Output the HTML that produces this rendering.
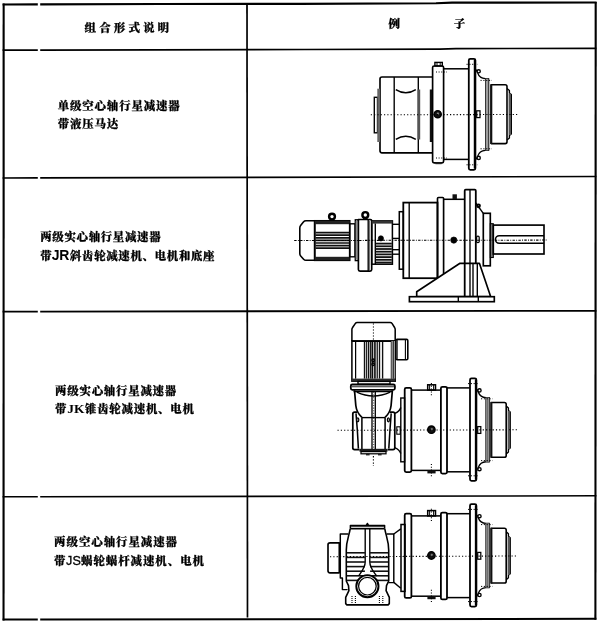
<!DOCTYPE html>
<html lang="zh-CN">
<head>
<meta charset="utf-8">
<title>组合形式说明</title>
<style>
html,body{margin:0;padding:0;background:#fff;}
body{width:600px;height:624px;position:relative;overflow:hidden;font-family:"Liberation Serif","Noto Serif CJK SC",serif;color:#000;}
svg{position:absolute;left:0;top:0;}
.t{position:absolute;white-space:nowrap;font-weight:900;font-size:11.4px;line-height:18.6px;letter-spacing:0.72px;-webkit-text-stroke:0.25px #000;filter:blur(0.3px);}
.h{position:absolute;white-space:nowrap;font-weight:900;font-size:11.5px;line-height:14px;-webkit-text-stroke:0.25px #000;filter:blur(0.3px);}
.lat{font-family:"Liberation Sans",sans-serif;font-weight:bold;font-size:14px;line-height:1;-webkit-text-stroke:0;letter-spacing:-0.2px;margin-left:-0.6px;margin-right:0.7px;position:relative;top:0.3px;}
.ser{font-family:"Liberation Serif",serif;font-weight:bold;font-size:13.5px;line-height:1;-webkit-text-stroke:0;letter-spacing:0;margin-left:-0.1px;margin-right:0.5px;}
.js{font-family:"Liberation Sans",sans-serif;font-weight:normal;font-size:12.6px;line-height:1;-webkit-text-stroke:0.3px #000;letter-spacing:0;margin-left:-0.4px;margin-right:0.2px;}
</style>
</head>
<body>
<svg width="600" height="624" viewBox="0 0 600 624" stroke-linecap="butt">
<path d="M2.6,4.50 L37.8,4.40 M40.2,4.39 L160.0,4.05 L300.0,3.85 L436.0,3.30 L452.0,2.65 L596.6,2.50" stroke="#000" stroke-width="2.1" fill="none"/>
<path d="M2.6,50.20 L37.8,50.11 M40.2,50.10 L155.0,49.80 L305.0,49.50 L440.0,49.05 L456.0,48.65 L596.4,48.30" stroke="#000" stroke-width="1.7" fill="none"/>
<line x1="2.60" y1="178.00" x2="37.80" y2="177.91" stroke="#000" stroke-width="1.60" />
<line x1="40.20" y1="177.91" x2="596.40" y2="176.50" stroke="#000" stroke-width="1.60" />
<line x1="2.60" y1="311.60" x2="37.80" y2="311.55" stroke="#000" stroke-width="1.80" />
<line x1="40.20" y1="311.55" x2="596.40" y2="310.80" stroke="#000" stroke-width="1.80" />
<line x1="2.60" y1="496.80" x2="37.80" y2="496.74" stroke="#000" stroke-width="1.60" />
<line x1="40.20" y1="496.74" x2="596.40" y2="495.80" stroke="#000" stroke-width="1.60" />
<line x1="2.60" y1="619.60" x2="37.80" y2="619.55" stroke="#000" stroke-width="2.00" />
<line x1="40.20" y1="619.55" x2="596.40" y2="618.80" stroke="#000" stroke-width="2.00" />
<line x1="3.65" y1="3.40" x2="3.55" y2="620.50" stroke="#000" stroke-width="2.10" />
<line x1="595.70" y1="1.90" x2="595.40" y2="619.70" stroke="#000" stroke-width="2.10" />
<line x1="247.00" y1="3.50" x2="247.50" y2="617.60" stroke="#000" stroke-width="1.70" />
<path d="M432,77 H382 Q380,77 380,79 V150.8 Q380,152.8 382,152.8 H432" stroke="#000" stroke-width="1.66" fill="none" stroke-linejoin="round" />
<line x1="394.20" y1="77.00" x2="394.20" y2="152.80" stroke="#000" stroke-width="1.38" />
<line x1="418.30" y1="77.00" x2="418.30" y2="152.80" stroke="#000" stroke-width="1.38" />
<path d="M395.8,89.6 Q405.8,96 415.8,89.6" stroke="#000" stroke-width="1.52" fill="none" stroke-linejoin="round" />
<path d="M395.8,139.4 Q405.8,133 415.8,139.4" stroke="#000" stroke-width="1.52" fill="none" stroke-linejoin="round" />
<rect x="374.30" y="97.30" width="3.20" height="35.50" rx="0" stroke="#000" stroke-width="1.38" fill="none"/>
<rect x="377.30" y="88.70" width="2.70" height="53.30" fill="#666"/>
<rect x="417.60" y="89.50" width="2.60" height="50.00" fill="#555"/>
<rect x="429.80" y="89.50" width="2.50" height="52.50" fill="#111"/>
<rect x="432.60" y="66.00" width="11.00" height="96.80" rx="1.5" stroke="#000" stroke-width="1.66" fill="none"/>
<rect x="434.90" y="62.40" width="7.40" height="3.60" rx="0" stroke="#000" stroke-width="1.38" fill="none"/>
<line x1="437.00" y1="62.40" x2="437.00" y2="66.00" stroke="#000" stroke-width="0.97" />
<line x1="440.20" y1="62.40" x2="440.20" y2="66.00" stroke="#000" stroke-width="0.97" />
<rect x="435.40" y="162.40" width="6.20" height="1.80" fill="#222"/>
<line x1="436.00" y1="72.00" x2="447.00" y2="72.00" stroke="#000" stroke-width="1.10" stroke-dasharray="1 1.6"/>
<line x1="436.00" y1="158.00" x2="447.00" y2="158.00" stroke="#000" stroke-width="1.10" stroke-dasharray="1 1.6"/>
<circle cx="437.70" cy="114.20" r="3.6" stroke="#000" stroke-width="1.38" fill="#111"/>
<circle cx="437.90" cy="113.60" r="1.1" stroke="#888" stroke-width="0.14" fill="#888"/>
<line x1="443.60" y1="68.80" x2="468.70" y2="68.80" stroke="#000" stroke-width="1.52" />
<line x1="443.60" y1="159.40" x2="468.70" y2="159.40" stroke="#000" stroke-width="1.52" />
<rect x="468.80" y="58.80" width="6.60" height="111.00" rx="1.5" stroke="#000" stroke-width="1.79" fill="none"/>
<line x1="474.60" y1="60.00" x2="474.60" y2="168.60" stroke="#000" stroke-width="1.66" />
<path d="M476.2,69.6 L477.6,72.6 Q479.4,78.4 485.4,78.6 H488.6 V150.4 H485.4 Q479.4,150.6 477.6,156.4 L476.2,159.4" stroke="#000" stroke-width="1.38" fill="none" stroke-linejoin="round" />
<rect x="485.40" y="78.60" width="3.20" height="71.80" fill="#aaa"/>
<line x1="485.60" y1="78.60" x2="485.60" y2="150.40" stroke="#222" stroke-width="0.97" />
<line x1="488.40" y1="78.60" x2="488.40" y2="150.40" stroke="#333" stroke-width="0.83" />
<circle cx="478.70" cy="71.30" r="1.6" stroke="#000" stroke-width="1.38" fill="#fff"/>
<circle cx="478.70" cy="157.90" r="1.6" stroke="#000" stroke-width="1.38" fill="#fff"/>
<line x1="466.50" y1="64.30" x2="478.00" y2="64.30" stroke="#000" stroke-width="0.97" stroke-dasharray="1.2 1.6"/>
<line x1="466.50" y1="164.80" x2="478.00" y2="164.80" stroke="#000" stroke-width="0.97" stroke-dasharray="1.2 1.6"/>
<line x1="480.50" y1="80.40" x2="492.00" y2="80.40" stroke="#000" stroke-width="0.97" stroke-dasharray="1.2 1.6"/>
<line x1="480.50" y1="148.80" x2="492.00" y2="148.80" stroke="#000" stroke-width="0.97" stroke-dasharray="1.2 1.6"/>
<rect x="476.70" y="110.80" width="3.30" height="6.80" rx="0" stroke="#000" stroke-width="1.24" fill="#fff"/>
<path d="M491.2,84.8 H505.2 Q507,84.8 507,86.6 V141.8 Q507,143.6 505.2,143.6 H491.2 Z" stroke="#000" stroke-width="1.59" fill="none" stroke-linejoin="round" />
<rect x="490.20" y="84.40" width="2.10" height="59.60" fill="#111"/>
<path d="M507,88.5 L509.4,90.5 V93 L511.3,94.5 V134 L509.4,135.5 V138 L507,140" stroke="#000" stroke-width="1.38" fill="none" stroke-linejoin="round" />
<rect x="508.60" y="93.50" width="2.40" height="41.50" fill="#555"/>
<line x1="370.80" y1="114.80" x2="519.00" y2="114.50" stroke="#000" stroke-width="1.10" stroke-dasharray="1.2 2.1"/>
<path d="M314.7,220.8 H306 Q304.4,220.8 303.4,222 L300.8,225.2 Q299.8,226.4 299.8,228 V253.4 Q299.8,255 300.9,256.2 L303.6,259.2 Q304.6,260.3 306,260.3 H314.7 Z" stroke="#000" stroke-width="1.59" fill="none" stroke-linejoin="round" />
<rect x="314.70" y="220.80" width="35.00" height="39.50" rx="0" stroke="#000" stroke-width="1.66" fill="none"/>
<rect x="314.70" y="220.80" width="35.00" height="3.40" fill="#222"/>
<rect x="314.70" y="256.80" width="35.00" height="3.50" fill="#222"/>
<line x1="315.50" y1="232.60" x2="349.50" y2="232.60" stroke="#111" stroke-width="1.72" />
<line x1="315.50" y1="235.20" x2="349.50" y2="235.20" stroke="#111" stroke-width="1.72" />
<line x1="315.50" y1="237.80" x2="349.50" y2="237.80" stroke="#111" stroke-width="1.72" />
<line x1="315.50" y1="240.40" x2="349.50" y2="240.40" stroke="#111" stroke-width="1.72" />
<line x1="315.50" y1="243.00" x2="349.50" y2="243.00" stroke="#111" stroke-width="1.72" />
<line x1="315.50" y1="245.60" x2="349.50" y2="245.60" stroke="#111" stroke-width="1.72" />
<line x1="315.50" y1="248.20" x2="349.50" y2="248.20" stroke="#111" stroke-width="1.72" />
<rect x="349.70" y="223.80" width="5.30" height="33.00" rx="0" stroke="#000" stroke-width="1.38" fill="none"/>
<rect x="355.30" y="219.80" width="3.10" height="40.80" rx="0" stroke="#000" stroke-width="1.38" fill="#fff"/>
<rect x="355.30" y="221.00" width="1.30" height="38.60" fill="#444"/>
<path d="M358.4,219.5 H370.4 Q371.7,219.5 371.7,220.8 V269.6 Q371.7,271.2 370.1,271.2 H360 Q358.4,271.2 358.4,269.6 Z" stroke="#000" stroke-width="1.66" fill="#fff" stroke-linejoin="round" />
<line x1="368.20" y1="219.50" x2="368.20" y2="271.20" stroke="#000" stroke-width="1.38" />
<line x1="369.40" y1="220.50" x2="369.40" y2="270.40" stroke="#444" stroke-width="0.83" />
<circle cx="332.00" cy="216.60" r="2.9" stroke="#000" stroke-width="2.42" fill="none"/>
<line x1="330.50" y1="219.60" x2="330.50" y2="220.80" stroke="#000" stroke-width="1.38" />
<line x1="333.50" y1="219.60" x2="333.50" y2="220.80" stroke="#000" stroke-width="1.38" />
<circle cx="365.30" cy="215.00" r="2.9" stroke="#000" stroke-width="2.42" fill="none"/>
<line x1="363.80" y1="218.00" x2="363.80" y2="219.40" stroke="#000" stroke-width="1.38" />
<line x1="366.80" y1="218.00" x2="366.80" y2="219.40" stroke="#000" stroke-width="1.38" />
<rect x="371.70" y="220.90" width="20.70" height="43.30" rx="0" stroke="#000" stroke-width="1.52" fill="none"/>
<rect x="371.70" y="220.90" width="20.70" height="2.70" fill="#333"/>
<line x1="375.30" y1="223.60" x2="375.30" y2="264.20" stroke="#000" stroke-width="1.38" />
<line x1="375.80" y1="243.60" x2="391.80" y2="243.60" stroke="#111" stroke-width="1.79" />
<line x1="375.80" y1="246.30" x2="391.80" y2="246.30" stroke="#111" stroke-width="1.79" />
<line x1="375.80" y1="249.00" x2="391.80" y2="249.00" stroke="#111" stroke-width="1.79" />
<line x1="375.80" y1="251.70" x2="391.80" y2="251.70" stroke="#111" stroke-width="1.79" />
<line x1="375.80" y1="254.40" x2="391.80" y2="254.40" stroke="#111" stroke-width="1.79" />
<line x1="375.80" y1="257.10" x2="391.80" y2="257.10" stroke="#111" stroke-width="1.79" />
<line x1="375.80" y1="259.80" x2="391.80" y2="259.80" stroke="#111" stroke-width="1.79" />
<line x1="375.80" y1="262.50" x2="391.80" y2="262.50" stroke="#111" stroke-width="1.79" />
<circle cx="380.90" cy="238.40" r="2.6" stroke="#000" stroke-width="0.69" fill="#000"/>
<line x1="392.40" y1="224.30" x2="399.40" y2="224.30" stroke="#000" stroke-width="1.38" />
<line x1="392.40" y1="238.40" x2="399.40" y2="238.40" stroke="#000" stroke-width="1.38" />
<line x1="392.40" y1="249.70" x2="399.40" y2="249.70" stroke="#000" stroke-width="1.38" />
<line x1="392.40" y1="254.20" x2="399.40" y2="254.20" stroke="#000" stroke-width="1.38" />
<rect x="399.30" y="211.70" width="4.00" height="57.50" rx="0" stroke="#000" stroke-width="1.52" fill="none"/>
<rect x="403.30" y="202.60" width="34.20" height="75.60" rx="0" stroke="#000" stroke-width="1.79" fill="none"/>
<line x1="409.20" y1="202.60" x2="409.20" y2="278.20" stroke="#000" stroke-width="1.38" />
<path d="M460,263.3 H479.4 L490.7,296.7 H416.7 V291.7 Z" stroke="#000" stroke-width="1.66" fill="#fff" stroke-linejoin="round" />
<rect x="409.40" y="296.70" width="84.90" height="5.00" rx="0" stroke="#000" stroke-width="1.66" fill="#fff"/>
<line x1="458.30" y1="296.70" x2="458.30" y2="301.70" stroke="#000" stroke-width="1.38" />
<line x1="478.30" y1="296.70" x2="478.30" y2="301.70" stroke="#000" stroke-width="1.38" />
<path d="M437.5,277.9 V198.5 Q437.5,197.5 438.5,197.5 H442.6 Q443.6,197.5 443.6,198.5 V274" stroke="#000" stroke-width="1.66" fill="none" stroke-linejoin="round" />
<line x1="443.60" y1="199.30" x2="464.70" y2="199.30" stroke="#000" stroke-width="1.52" />
<rect x="452.50" y="194.30" width="4.40" height="4.70" fill="#111"/>
<circle cx="453.80" cy="240.10" r="3.1" stroke="#000" stroke-width="0.69" fill="#000"/>
<path d="M464.7,296.7 V190.7 Q464.7,189.7 465.7,189.7 H474.8 Q475.8,189.7 475.8,190.7 V263.3" stroke="#000" stroke-width="1.79" fill="none" stroke-linejoin="round" />
<line x1="470.00" y1="189.70" x2="470.00" y2="296.70" stroke="#000" stroke-width="1.38" />
<line x1="473.00" y1="263.30" x2="473.00" y2="296.70" stroke="#000" stroke-width="1.38" />
<line x1="477.30" y1="263.30" x2="477.30" y2="296.70" stroke="#000" stroke-width="1.38" />
<circle cx="478.50" cy="205.80" r="1.5" stroke="#000" stroke-width="1.79" fill="none"/>
<path d="M475.8,203 L483.3,213.3" stroke="#000" stroke-width="1.38" fill="none" stroke-linejoin="round" />
<path d="M475.8,213.3 H483.3" stroke="#000" stroke-width="0.01" fill="none" stroke-linejoin="round" />
<rect x="483.30" y="213.30" width="7.00" height="52.50" rx="0" stroke="#000" stroke-width="1.66" fill="none"/>
<rect x="490.30" y="223.70" width="3.00" height="33.80" fill="#777"/>
<rect x="490.30" y="223.70" width="3.00" height="33.80" rx="0" stroke="#000" stroke-width="1.10" fill="none"/>
<rect x="493.30" y="225.10" width="50.70" height="28.90" rx="0" stroke="#000" stroke-width="1.66" fill="none"/>
<path d="M544,235.8 H499.2 A3.7,3.7 0 0 0 499.2,243.3 H544" stroke="#000" stroke-width="1.52" fill="none" stroke-linejoin="round" />
<rect x="476.60" y="236.20" width="2.60" height="6.40" rx="1.2" stroke="#000" stroke-width="1.24" fill="none"/>
<line x1="294.20" y1="240.50" x2="547.00" y2="240.10" stroke="#000" stroke-width="1.03" stroke-dasharray="2.4 1.3 0.9 1.3"/>
<path d="M351.9,341 V329.6 Q351.9,328.4 352.6,327.5 L355.4,323.3 Q356,322.4 357.2,322.4 H390.2 Q391.4,322.4 392,323.3 L394.6,327.5 Q395.2,328.4 395.2,329.6 V341" stroke="#000" stroke-width="1.52" fill="none" stroke-linejoin="round" />
<rect x="351.90" y="341.00" width="43.30" height="40.20" rx="0" stroke="#000" stroke-width="1.52" fill="none"/>
<line x1="351.90" y1="341.20" x2="395.20" y2="341.20" stroke="#000" stroke-width="1.79" />
<line x1="355.60" y1="341.00" x2="355.60" y2="378.70" stroke="#000" stroke-width="1.24" />
<line x1="391.40" y1="341.00" x2="391.40" y2="378.70" stroke="#000" stroke-width="1.24" />
<rect x="391.40" y="341.00" width="3.80" height="37.70" fill="#999"/>
<line x1="393.40" y1="341.00" x2="393.40" y2="378.70" stroke="#333" stroke-width="1.10" />
<rect x="351.90" y="378.60" width="43.30" height="2.80" fill="#2a2a2a"/>
<line x1="364.50" y1="342.00" x2="364.50" y2="378.60" stroke="#111" stroke-width="1.38" />
<line x1="366.50" y1="342.00" x2="366.50" y2="378.60" stroke="#222" stroke-width="1.24" />
<line x1="368.50" y1="342.00" x2="368.50" y2="378.60" stroke="#111" stroke-width="1.38" />
<line x1="370.40" y1="342.00" x2="370.40" y2="378.60" stroke="#222" stroke-width="1.24" />
<line x1="372.30" y1="342.00" x2="372.30" y2="378.60" stroke="#111" stroke-width="1.52" />
<line x1="374.90" y1="342.00" x2="374.90" y2="378.60" stroke="#111" stroke-width="1.52" />
<line x1="377.30" y1="342.00" x2="377.30" y2="378.60" stroke="#222" stroke-width="1.24" />
<line x1="379.50" y1="342.00" x2="379.50" y2="378.60" stroke="#111" stroke-width="1.38" />
<line x1="382.60" y1="342.00" x2="382.60" y2="378.60" stroke="#111" stroke-width="1.38" />
<rect x="370.40" y="342.00" width="6.20" height="36.60" fill="rgba(0,0,0,0.22)"/>
<rect x="395.90" y="339.40" width="11.90" height="20.40" rx="1.2" stroke="#000" stroke-width="1.59" fill="none"/>
<line x1="405.40" y1="339.40" x2="405.40" y2="359.80" stroke="#000" stroke-width="1.10" />
<line x1="397.20" y1="339.80" x2="397.20" y2="359.40" stroke="#000" stroke-width="0.97" />
<circle cx="373.20" cy="360.20" r="1.2" stroke="#000" stroke-width="1.52" fill="#ccc"/>
<circle cx="373.20" cy="364.30" r="1.2" stroke="#000" stroke-width="1.52" fill="#ccc"/>
<rect x="358.00" y="381.40" width="32.00" height="2.80" rx="0" stroke="#000" stroke-width="1.38" fill="none"/>
<rect x="350.80" y="384.50" width="44.10" height="5.30" rx="1.5" stroke="#000" stroke-width="1.79" fill="none"/>
<line x1="351.50" y1="386.70" x2="394.30" y2="386.70" stroke="#222" stroke-width="1.10" />
<line x1="353.60" y1="391.60" x2="392.90" y2="391.60" stroke="#000" stroke-width="1.38" />
<path d="M354.5,390.2 L355.8,405.5 Q356.6,412.6 361.9,417.4" stroke="#000" stroke-width="1.72" fill="none" stroke-linejoin="round" />
<path d="M392.4,390.2 L391.1,405.5 Q390.3,412.6 385.1,417.4" stroke="#000" stroke-width="1.72" fill="none" stroke-linejoin="round" />
<path d="M356.8,392.2 Q373.4,399.8 390.2,392.2" stroke="#000" stroke-width="1.45" fill="none" stroke-linejoin="round" />
<path d="M357,412.2 H354.6 Q352.8,412.2 352.8,414 V447.8 Q352.8,449.6 354.6,449.6 H359.4" stroke="#000" stroke-width="1.72" fill="none" stroke-linejoin="round" />
<path d="M389.8,412.2 H393 Q394.8,412.2 394.8,414 V447.8 Q394.8,449.6 393,449.6 H387.6" stroke="#000" stroke-width="1.72" fill="none" stroke-linejoin="round" />
<path d="M356.0,413.4 Q357.6,431 358.4,448.6" stroke="#000" stroke-width="1.52" fill="none" stroke-linejoin="round" />
<path d="M391.2,413.4 Q389.8,431 388.8,448.6" stroke="#000" stroke-width="1.52" fill="none" stroke-linejoin="round" />
<line x1="361.90" y1="417.40" x2="361.90" y2="449.00" stroke="#000" stroke-width="1.52" />
<line x1="385.10" y1="417.40" x2="385.10" y2="449.00" stroke="#000" stroke-width="1.52" />
<line x1="361.90" y1="417.60" x2="385.10" y2="417.60" stroke="#000" stroke-width="1.38" />
<ellipse cx="357.8" cy="419.8" rx="1.0" ry="2.0" stroke="#000" stroke-width="1.3" fill="#fff"/>
<ellipse cx="388.4" cy="419.8" rx="1.0" ry="2.0" stroke="#000" stroke-width="1.3" fill="#fff"/>
<line x1="372.00" y1="391.60" x2="372.00" y2="449.60" stroke="#000" stroke-width="1.31" />
<line x1="375.30" y1="391.60" x2="375.30" y2="449.60" stroke="#000" stroke-width="1.31" />
<line x1="373.60" y1="392.00" x2="373.60" y2="449.60" stroke="#666" stroke-width="1.38" stroke-dasharray="1.1 1.5"/>
<rect x="359.40" y="448.80" width="28.10" height="2.80" fill="#1a1a1a"/>
<rect x="361.00" y="451.60" width="25.00" height="2.20" rx="0" stroke="#000" stroke-width="1.24" fill="none"/>
<rect x="366.00" y="453.80" width="3.60" height="1.60" fill="#222"/>
<rect x="378.00" y="453.80" width="3.60" height="1.60" fill="#222"/>
<line x1="373.40" y1="323.40" x2="373.40" y2="341.00" stroke="#000" stroke-width="0.97" stroke-dasharray="1.2 1.8"/>
<line x1="373.40" y1="456.00" x2="373.40" y2="466.00" stroke="#000" stroke-width="1.10" stroke-dasharray="1.4 1.8"/>
<path d="M394.8,413.4 Q399.5,411.5 400.8,407.4" stroke="#000" stroke-width="1.52" fill="none" stroke-linejoin="round" />
<path d="M394.8,447.6 Q399.5,449.5 400.8,453.6" stroke="#000" stroke-width="1.52" fill="none" stroke-linejoin="round" />
<rect x="396.80" y="426.80" width="3.40" height="7.40" rx="0" stroke="#000" stroke-width="1.10" fill="none"/>
<rect x="400.80" y="398.00" width="3.80" height="63.80" rx="0" stroke="#000" stroke-width="1.38" fill="none"/>
<rect x="404.70" y="387.90" width="6.70" height="84.20" rx="1.5" stroke="#000" stroke-width="1.79" fill="none"/>
<line x1="411.40" y1="390.10" x2="440.80" y2="390.10" stroke="#000" stroke-width="1.52" />
<line x1="411.40" y1="470.40" x2="440.80" y2="470.40" stroke="#000" stroke-width="1.52" />
<rect x="427.70" y="384.80" width="7.80" height="5.30" rx="0" stroke="#000" stroke-width="1.52" fill="none"/>
<line x1="429.60" y1="384.80" x2="429.60" y2="390.10" stroke="#000" stroke-width="0.97" />
<line x1="433.60" y1="384.80" x2="433.60" y2="390.10" stroke="#000" stroke-width="0.97" />
<rect x="427.40" y="470.20" width="8.20" height="3.20" fill="#111"/>
<line x1="431.40" y1="383.00" x2="431.40" y2="396.00" stroke="#000" stroke-width="1.10" stroke-dasharray="1 1.8"/>
<line x1="431.40" y1="464.00" x2="431.40" y2="478.00" stroke="#000" stroke-width="1.10" stroke-dasharray="1 1.8"/>
<circle cx="431.40" cy="429.70" r="3.7" stroke="#000" stroke-width="1.38" fill="#111"/>
<circle cx="431.80" cy="429.10" r="1.1" stroke="#777" stroke-width="0.14" fill="#777"/>
<rect x="440.90" y="386.80" width="6.10" height="86.80" rx="1.5" stroke="#000" stroke-width="1.79" fill="none"/>
<line x1="447.00" y1="387.90" x2="469.80" y2="387.90" stroke="#000" stroke-width="1.52" />
<line x1="447.00" y1="471.80" x2="469.80" y2="471.80" stroke="#000" stroke-width="1.52" />
<rect x="470.00" y="378.40" width="6.40" height="102.40" rx="1.5" stroke="#000" stroke-width="1.79" fill="none"/>
<line x1="475.60" y1="379.50" x2="475.60" y2="479.80" stroke="#000" stroke-width="1.52" />
<path d="M477,389.20 L478.4,392.20 Q480.2,397.40 486,397.60 H489.4 V461.80 H486 Q480.2,462.00 478.4,467.40 L477,470.40" stroke="#000" stroke-width="1.38" fill="none" stroke-linejoin="round" />
<rect x="485.70" y="397.60" width="3.70" height="64.20" fill="#b0b0b0"/>
<line x1="485.80" y1="397.60" x2="485.80" y2="461.80" stroke="#222" stroke-width="0.97" />
<line x1="487.50" y1="397.60" x2="487.50" y2="461.80" stroke="#444" stroke-width="0.62" />
<line x1="489.20" y1="397.60" x2="489.20" y2="461.80" stroke="#333" stroke-width="0.76" />
<circle cx="479.50" cy="390.40" r="1.6" stroke="#000" stroke-width="1.38" fill="#fff"/>
<circle cx="479.50" cy="469.20" r="1.6" stroke="#000" stroke-width="1.38" fill="#fff"/>
<line x1="468.00" y1="383.60" x2="478.50" y2="383.60" stroke="#000" stroke-width="0.97" stroke-dasharray="1.2 1.6"/>
<line x1="468.00" y1="475.80" x2="478.50" y2="475.80" stroke="#000" stroke-width="0.97" stroke-dasharray="1.2 1.6"/>
<line x1="481.00" y1="398.80" x2="492.50" y2="398.80" stroke="#000" stroke-width="0.97" stroke-dasharray="1.2 1.6"/>
<line x1="481.00" y1="460.60" x2="492.50" y2="460.60" stroke="#000" stroke-width="0.97" stroke-dasharray="1.2 1.6"/>
<rect x="477.70" y="426.60" width="3.10" height="6.80" rx="0" stroke="#000" stroke-width="1.24" fill="#fff"/>
<path d="M491.2,402.50 H504.4 Q506.2,402.50 506.2,404.30 V455.40 Q506.2,457.20 504.4,457.20 H491.2 Z" stroke="#000" stroke-width="1.59" fill="none" stroke-linejoin="round" />
<rect x="490.50" y="402.00" width="1.90" height="55.70" fill="#111"/>
<path d="M506.2,406.00 L508.4,408.00 V410.50 L510.2,412.00 V448.00 L508.4,449.50 V452.00 L506.2,454.00" stroke="#000" stroke-width="1.38" fill="none" stroke-linejoin="round" />
<rect x="507.60" y="411.00" width="2.40" height="38.00" fill="#555"/>
<line x1="337.50" y1="430.30" x2="517.50" y2="429.80" stroke="#000" stroke-width="1.10" stroke-dasharray="1.2 2.1"/>
<path d="M339.3,542.8 H330 Q328,542.8 328,544.8 V570.8 Q328,572.8 330,572.8 H339.3 Z" stroke="#000" stroke-width="1.66" fill="none" stroke-linejoin="round" />
<path d="M348.4,534 H340.3 V578 H342.4 V589.6 H347.6" stroke="#000" stroke-width="1.45" fill="none" stroke-linejoin="round" />
<path d="M350.4,528.7 V525.4 H384.6 V528.7" stroke="#000" stroke-width="1.52" fill="none" stroke-linejoin="round" />
<line x1="350.40" y1="528.70" x2="384.60" y2="528.70" stroke="#000" stroke-width="1.52" />
<line x1="351.00" y1="526.60" x2="384.00" y2="526.60" stroke="#444" stroke-width="1.24" />
<path d="M366.3,525.4 L367.4,523.4 L368.5,525.4" stroke="#000" stroke-width="1.38" fill="none" stroke-linejoin="round" />
<path d="M350.2,528.9 C349,536 346.3,541 346.3,550 V581 L348.5,585.6 L348.9,590.6 L345.7,597.4 V603.6 L346.9,604.9 H388.1 L389.3,603.6 V597.4 L386.1,590.6 L386.5,585.6 L388.7,581 V550 C388.7,541 386,536 384.8,528.9" stroke="#000" stroke-width="1.59" fill="none" stroke-linejoin="round" />
<line x1="347.00" y1="552.80" x2="364.90" y2="552.80" stroke="#111" stroke-width="1.59" />
<line x1="370.10" y1="552.80" x2="388.00" y2="552.80" stroke="#111" stroke-width="1.59" />
<line x1="347.00" y1="557.40" x2="364.90" y2="557.40" stroke="#111" stroke-width="1.59" />
<line x1="370.10" y1="557.40" x2="388.00" y2="557.40" stroke="#111" stroke-width="1.59" />
<line x1="347.00" y1="562.00" x2="364.90" y2="562.00" stroke="#111" stroke-width="1.59" />
<line x1="370.10" y1="562.00" x2="388.00" y2="562.00" stroke="#111" stroke-width="1.59" />
<line x1="347.00" y1="566.60" x2="364.90" y2="566.60" stroke="#111" stroke-width="1.59" />
<line x1="370.10" y1="566.60" x2="388.00" y2="566.60" stroke="#111" stroke-width="1.59" />
<line x1="347.00" y1="571.20" x2="364.90" y2="571.20" stroke="#111" stroke-width="1.59" />
<line x1="370.10" y1="571.20" x2="388.00" y2="571.20" stroke="#111" stroke-width="1.59" />
<line x1="347.00" y1="575.80" x2="364.90" y2="575.80" stroke="#111" stroke-width="1.59" />
<line x1="370.10" y1="575.80" x2="388.00" y2="575.80" stroke="#111" stroke-width="1.59" />
<line x1="347.00" y1="580.40" x2="364.90" y2="580.40" stroke="#111" stroke-width="1.59" />
<line x1="370.10" y1="580.40" x2="388.00" y2="580.40" stroke="#111" stroke-width="1.59" />
<path d="M365.2,529 V562 C365.2,568 361,572 358.6,576" stroke="#000" stroke-width="1.38" fill="none" stroke-linejoin="round" />
<path d="M369.8,529 V562 C369.8,568 374,572 376.6,576" stroke="#000" stroke-width="1.38" fill="none" stroke-linejoin="round" />
<circle cx="367.40" cy="586.20" r="11.1" stroke="#000" stroke-width="1.93" fill="#fff"/>
<circle cx="367.40" cy="586.20" r="8.8" stroke="#000" stroke-width="1.24" fill="none"/>
<line x1="352.00" y1="596.00" x2="352.00" y2="604.00" stroke="#000" stroke-width="1.10" stroke-dasharray="1 1"/>
<line x1="355.40" y1="596.00" x2="355.40" y2="604.00" stroke="#000" stroke-width="1.10" stroke-dasharray="1 1"/>
<line x1="379.40" y1="596.00" x2="379.40" y2="604.00" stroke="#000" stroke-width="1.10" stroke-dasharray="1 1"/>
<line x1="382.80" y1="596.00" x2="382.80" y2="604.00" stroke="#000" stroke-width="1.10" stroke-dasharray="1 1"/>
<path d="M386.6,534 H393.8 V582.6 H388.4" stroke="#000" stroke-width="1.45" fill="none" stroke-linejoin="round" />
<path d="M393.8,534 L400.8,528.9" stroke="#000" stroke-width="1.38" fill="none" stroke-linejoin="round" />
<path d="M393.8,582.4 L400.8,588.2" stroke="#000" stroke-width="1.38" fill="none" stroke-linejoin="round" />
<rect x="401.00" y="524.50" width="4.00" height="66.90" rx="0" stroke="#000" stroke-width="1.52" fill="none"/>
<rect x="404.70" y="513.70" width="6.70" height="84.20" rx="1.5" stroke="#000" stroke-width="1.79" fill="none"/>
<line x1="411.40" y1="515.90" x2="440.80" y2="515.90" stroke="#000" stroke-width="1.52" />
<line x1="411.40" y1="596.20" x2="440.80" y2="596.20" stroke="#000" stroke-width="1.52" />
<rect x="427.70" y="510.60" width="7.80" height="5.30" rx="0" stroke="#000" stroke-width="1.52" fill="none"/>
<line x1="429.60" y1="510.60" x2="429.60" y2="515.90" stroke="#000" stroke-width="0.97" />
<line x1="433.60" y1="510.60" x2="433.60" y2="515.90" stroke="#000" stroke-width="0.97" />
<rect x="427.40" y="596.00" width="8.20" height="3.20" fill="#111"/>
<line x1="431.40" y1="508.80" x2="431.40" y2="521.80" stroke="#000" stroke-width="1.10" stroke-dasharray="1 1.8"/>
<line x1="431.40" y1="589.80" x2="431.40" y2="603.80" stroke="#000" stroke-width="1.10" stroke-dasharray="1 1.8"/>
<circle cx="431.40" cy="555.50" r="3.7" stroke="#000" stroke-width="1.38" fill="#111"/>
<circle cx="431.80" cy="554.90" r="1.1" stroke="#777" stroke-width="0.14" fill="#777"/>
<rect x="440.90" y="512.60" width="6.10" height="86.80" rx="1.5" stroke="#000" stroke-width="1.79" fill="none"/>
<line x1="447.00" y1="513.70" x2="469.80" y2="513.70" stroke="#000" stroke-width="1.52" />
<line x1="447.00" y1="597.60" x2="469.80" y2="597.60" stroke="#000" stroke-width="1.52" />
<rect x="470.00" y="504.20" width="6.40" height="102.40" rx="1.5" stroke="#000" stroke-width="1.79" fill="none"/>
<line x1="475.60" y1="505.30" x2="475.60" y2="605.60" stroke="#000" stroke-width="1.52" />
<path d="M477,515.00 L478.4,518.00 Q480.2,523.20 486,523.40 H489.4 V587.60 H486 Q480.2,587.80 478.4,593.20 L477,596.20" stroke="#000" stroke-width="1.38" fill="none" stroke-linejoin="round" />
<rect x="485.70" y="523.40" width="3.70" height="64.20" fill="#b0b0b0"/>
<line x1="485.80" y1="523.40" x2="485.80" y2="587.60" stroke="#222" stroke-width="0.97" />
<line x1="487.50" y1="523.40" x2="487.50" y2="587.60" stroke="#444" stroke-width="0.62" />
<line x1="489.20" y1="523.40" x2="489.20" y2="587.60" stroke="#333" stroke-width="0.76" />
<circle cx="479.50" cy="516.20" r="1.6" stroke="#000" stroke-width="1.38" fill="#fff"/>
<circle cx="479.50" cy="595.00" r="1.6" stroke="#000" stroke-width="1.38" fill="#fff"/>
<line x1="468.00" y1="509.40" x2="478.50" y2="509.40" stroke="#000" stroke-width="0.97" stroke-dasharray="1.2 1.6"/>
<line x1="468.00" y1="601.60" x2="478.50" y2="601.60" stroke="#000" stroke-width="0.97" stroke-dasharray="1.2 1.6"/>
<line x1="481.00" y1="524.60" x2="492.50" y2="524.60" stroke="#000" stroke-width="0.97" stroke-dasharray="1.2 1.6"/>
<line x1="481.00" y1="586.40" x2="492.50" y2="586.40" stroke="#000" stroke-width="0.97" stroke-dasharray="1.2 1.6"/>
<rect x="477.70" y="552.40" width="3.10" height="6.80" rx="0" stroke="#000" stroke-width="1.24" fill="#fff"/>
<path d="M491.2,528.30 H504.4 Q506.2,528.30 506.2,530.10 V581.20 Q506.2,583.00 504.4,583.00 H491.2 Z" stroke="#000" stroke-width="1.59" fill="none" stroke-linejoin="round" />
<rect x="490.50" y="527.80" width="1.90" height="55.70" fill="#111"/>
<path d="M506.2,531.80 L508.4,533.80 V536.30 L510.2,537.80 V573.80 L508.4,575.30 V577.80 L506.2,579.80" stroke="#000" stroke-width="1.38" fill="none" stroke-linejoin="round" />
<rect x="507.60" y="536.80" width="2.40" height="38.00" fill="#555"/>
<line x1="330.00" y1="556.70" x2="517.00" y2="556.00" stroke="#000" stroke-width="1.10" stroke-dasharray="1.2 2.1"/>
</svg>
<div class="h" style="left:84.6px;top:21.3px;letter-spacing:3.1px;">组合形式说明</div>
<div class="h" style="left:388.5px;top:17.3px;letter-spacing:53.7px;">例子</div>
<div class="t" style="left:57.7px;top:96.9px;letter-spacing:0.9px;">单级空心轴行星减速器<br>带液压马达</div>
<div class="t" style="left:40.2px;top:228.1px;">两级实心轴行星减速器<br>带<span class="lat">JR</span>斜齿轮减速机、电机和底座</div>
<div class="t" style="left:55.1px;top:381.5px;letter-spacing:0.8px;">两级实心轴行星减速器<br>带<span class="ser">JK</span>锥齿轮减速机、电机</div>
<div class="t" style="left:54.1px;top:533.0px;letter-spacing:1.0px;">两级空心轴行星减速器<br>带<span class="js">JS</span>蜗轮蜗杆减速机、电机</div>
</body>
</html>
